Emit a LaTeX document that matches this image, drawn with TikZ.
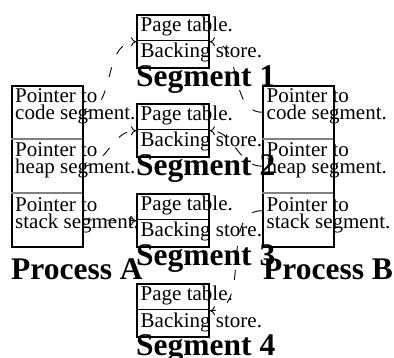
\documentclass[tikz,border=0pt]{standalone}
\usepackage{fontspec}
\setmainfont{Liberation Serif}
\usetikzlibrary{arrows.meta}
\begin{document}
\begin{tikzpicture}[x=1pt,y=-1pt,
  box/.style={draw, line width=2pt, inner sep=0pt, anchor=north west},
  part/.style={inner sep=0pt, anchor=north west},
  txt/.style={inner sep=0pt, anchor=base west, font=\fontsize{21}{17}\selectfont},
  lbl/.style={inner sep=0pt, anchor=base west, font=\fontsize{31.5}{32}\selectfont\bfseries},
  psplit/.style={draw=gray, line width=2pt},
  ssplit/.style={draw, line width=1pt},
  link/.style={line width=0.9pt, dash pattern=on 10pt off 14pt, -{To[length=5pt,width=9pt]}}]

\useasboundingbox (0,0) rectangle (394,358);

% ---- Process A ----
\node[box, minimum width=71pt, minimum height=161pt] (pa) at (11,85) {};
\node[part, minimum width=71pt, minimum height=54pt] (pa1) at (11,85) {};
\node[part, minimum width=71pt, minimum height=54pt] (pa2) at (11,139) {};
\node[part, minimum width=71pt, minimum height=53pt] (pa3) at (11,193) {};
\draw[psplit] (pa2.north west) -- (pa2.north east);
\draw[psplit] (pa3.north west) -- (pa3.north east);
\node[txt] (pa1x) at (15,103) {Pointer to};
\node[txt] (pa1y) at (15,120) {code segment.};
\node[txt] (pa2x) at (15,157) {Pointer to};
\node[txt] (pa2y) at (15,174) {heap segment.};
\node[txt] (pa3x) at (15,211.5) {Pointer to};
\node[txt] (pa3y) at (15,228.5) {stack segment.};
\node[lbl] (pal) at (11,280) {Process A};

% ---- Process B ----
\node[box, minimum width=71pt, minimum height=161pt] (pb) at (262,85) {};
\node[part, minimum width=71pt, minimum height=54pt] (pb1) at (262,85) {};
\node[part, minimum width=71pt, minimum height=54pt] (pb2) at (262,139) {};
\node[part, minimum width=71pt, minimum height=53pt] (pb3) at (262,193) {};
\draw[psplit] (pb2.north west) -- (pb2.north east);
\draw[psplit] (pb3.north west) -- (pb3.north east);
\node[txt] (pb1x) at (266.5,103) {Pointer to};
\node[txt] (pb1y) at (266.5,120) {code segment.};
\node[txt] (pb2x) at (266.5,157) {Pointer to};
\node[txt] (pb2y) at (266.5,174) {heap segment.};
\node[txt] (pb3x) at (266.5,211.5) {Pointer to};
\node[txt] (pb3y) at (266.5,228.5) {stack segment.};
\node[lbl] (pbl) at (263,280) {Process B};

% ---- Segments ----
\foreach \k/\top in {1/14, 2/103, 3/193, 4/283} {
  \node[box, minimum width=72pt, minimum height=53.5pt] (s\k) at (136,\top) {};
  \node[part, minimum width=72pt, minimum height=26.5pt] (s\k b) at (136,\top+26.5) {};
  \draw[ssplit] (s\k b.north west) -- (s\k b.north east);
  \node[txt] (s\k p) at (140.5,\top+17.7) {Page table.};
  \node[txt] (s\k s) at (140.5,\top+44) {Backing store.};
  \node[lbl] (s\k l) at (136,\top+72.5) {Segment \k};
}

% ---- Pointers ----
\draw[link] (pa1.east) to[out=0,in=180] (s1.west);
\draw[link] (pa2.east) to[out=0,in=180] (s2.west);
\draw[link] (pa3.east) -- (s3.west);
\draw[link] (pb1.west) to[out=180,in=0] (s1.east);
\draw[link] (pb2.west) to[out=180,in=0] (s2.east);
\draw[link] ([yshift=9pt]pb3.west) to[out=180,in=0] (s4.east);
\end{tikzpicture}
\end{document}
